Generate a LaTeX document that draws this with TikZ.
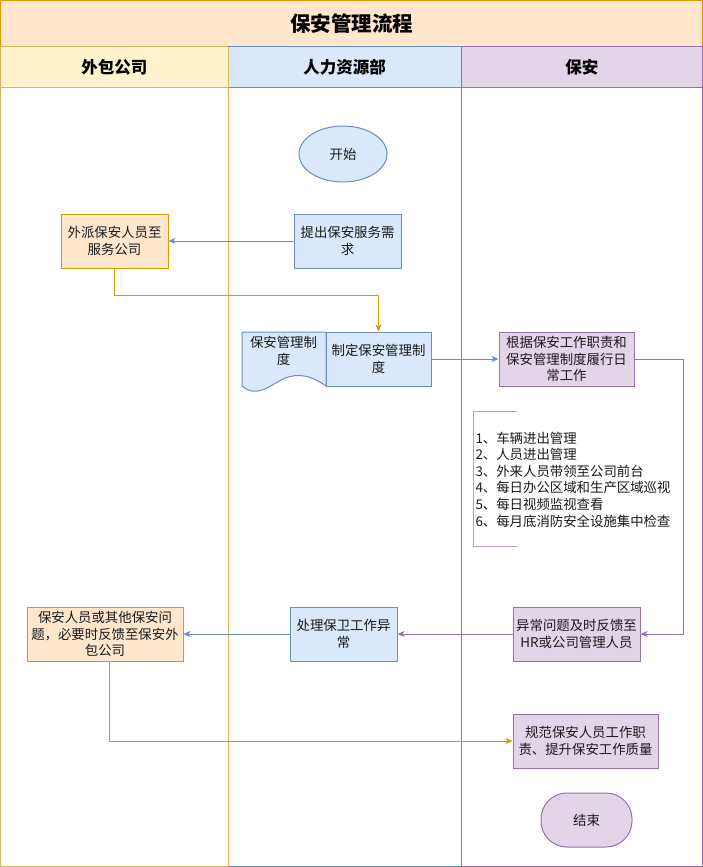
\documentclass[tikz,border=0pt]{standalone}
\usepackage{fontspec}
\newfontfamily\cjk{Noto Sans CJK SC}
\usetikzlibrary{arrows.meta,shapes.geometric,calc}
\definecolor{bfill}{HTML}{DAE8FC}\definecolor{bline}{HTML}{6C8EBF}
\definecolor{ofill}{HTML}{FFE6CC}\definecolor{oline}{HTML}{D79B00}
\definecolor{pfill}{HTML}{E1D5E7}\definecolor{pline}{HTML}{9673A6}
\definecolor{yfill}{HTML}{FFF2CC}\definecolor{yline}{HTML}{D6B656}
\definecolor{txt}{HTML}{1A1A1A}
\tikzset{
 base/.style={draw, line width=1pt, font=\cjk\fontsize{13.4}{16.6}\selectfont, text=txt, align=center, inner sep=0pt},
 bluebox/.style={base, fill=bfill, draw=bline, minimum height=54pt},
 orangebox/.style={base, fill=ofill, draw=oline, minimum height=54pt},
 purplebox/.style={base, fill=pfill, draw=pline, minimum height=54pt},
 conn/.style={line width=1pt, -{Stealth[length=7pt,width=6pt,inset=2pt]}},
 hdr/.style={font=\cjk\bfseries\fontsize{16.5}{19}\selectfont, text=black},
}
\begin{document}
\begin{tikzpicture}[x=1pt,y=-1pt]
\useasboundingbox (0,0) rectangle (703,867);
% pool and lanes
\draw[line width=1pt, draw=oline, fill=ofill] (0.5,0.5) rectangle (702.5,47) node[midway, hdr, font=\cjk\bfseries\fontsize{20.5}{24}\selectfont] (title) {保安管理流程};
\draw[line width=1pt, draw=yline, fill=white] (0.5,47) rectangle (228,866.5);
\draw[line width=1pt, draw=yline, fill=yfill] (0.5,47) rectangle (228,87) node[midway, hdr] (h1) {外包公司};
\draw[line width=1pt, draw=bline, fill=white] (228,47) rectangle (461,866.5);
\draw[line width=1pt, draw=bline, fill=bfill] (228,47) rectangle (461,87) node[midway, hdr] (h2) {人力资源部};
\draw[line width=1pt, draw=pline, fill=white] (461,47) rectangle (702.5,866.5);
\draw[line width=1pt, draw=pline, fill=pfill] (461,47) rectangle (702.5,87) node[midway, hdr] (h3) {保安};
\draw[line width=1pt, draw=yline] (228,47) -- (228,866.5);

% nodes
\node[base, ellipse, fill=bfill, draw=bline, minimum width=88pt, minimum height=56pt] (start) at (343,154) {开始};
\node[bluebox, minimum width=107pt] (req) at (347.5,241) {提出保安服务需\\求};
\node[orangebox, minimum width=107pt] (dispatch) at (114.5,241) {外派保安人员至\\服务公司};
\node[bluebox, minimum width=105pt] (make) at (378.5,359) {制定保安管理制\\度};
\draw[line width=1pt, draw=bline, fill=bfill] (242,332) -- (326,332) -- (326,386)
  .. controls (312,376) and (298,372) .. (283,379)
  .. controls (268,387) and (256,398) .. (242,386) -- cycle;
\node[base, draw=none] (doc) at (283.5,351) {保安管理制\\度};
\node[purplebox, minimum width=135pt] (work) at (566.5,359) {根据保安工作职责和\\保安管理制度履行日\\常工作};
\draw[line width=1pt, draw=pline!70] (517,411) -- (473,411) -- (473,546) -- (517,546);
\node[base, draw=none, align=left, anchor=west] (list) at (475,479.5) {1、车辆进出管理\\2、人员进出管理\\3、外来人员带领至公司前台\\4、每日办公区域和生产区域巡视\\5、每日视频监视查看\\6、每月底消防安全设施集中检查};
\node[purplebox, minimum width=127pt] (fb) at (576.5,634) {异常问题及时反馈至\\HR或公司管理人员};
\node[bluebox, minimum width=107pt] (handle) at (343.5,634) {处理保卫工作异\\常};
\node[orangebox, minimum width=156pt] (out) at (105,634) {保安人员或其他保安问\\题，必要时反馈至保安外\\包公司};
\node[purplebox, minimum width=145pt] (norm) at (585.5,741) {规范保安人员工作职\\责、提升保安工作质量};
\node[base, fill=pfill, draw=pline, minimum width=91pt, minimum height=54pt, rounded corners=26pt] (end) at (586.5,820) {结束};

% connectors
\draw[conn, bline] (req.west) -- (dispatch.east);
\draw[conn, oline] (dispatch.south) -- ++(0,27) -| (make.north);
\draw[conn, bline] (make.east) -- (work.west);
\draw[conn, pline] (work.east) -- ++(49,0) |- (fb.east);
\draw[conn, pline] (fb.west) -- (handle.east);
\draw[conn, bline] (handle.west) -- (out.east);
\draw[conn, oline] ($(out.south)+(4,0)$) |- (norm.west);
\end{tikzpicture}
\end{document}
